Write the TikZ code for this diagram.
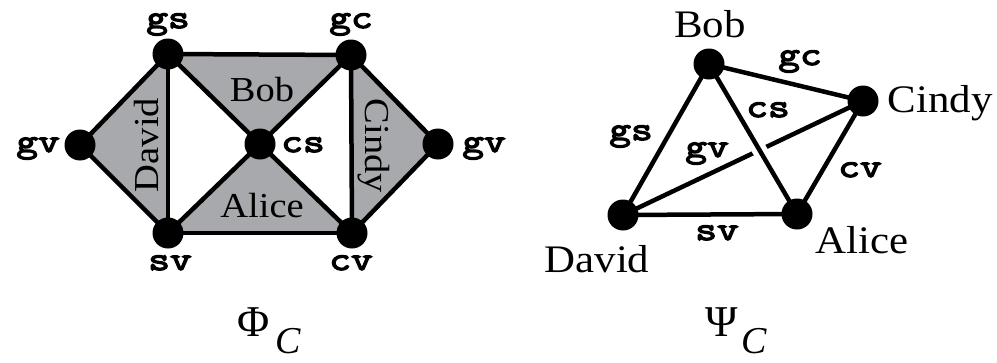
\documentclass[tikz,border=0pt]{standalone}
\usepackage{fontspec}
\setmainfont{Liberation Serif}
\newfontfamily\namefont[FakeStretch=1.1]{Liberation Serif}
\newfontfamily\codefont[FakeBold=4,FakeStretch=1.28]{Latin Modern Mono}
\usetikzlibrary{backgrounds}
\definecolor{triGray}{RGB}{167,169,172}
\begin{document}
\begin{tikzpicture}[x=1pt,y=-1pt,
  vertex/.style={circle, fill=black, inner sep=0pt, minimum size=31pt},
  lnk/.style={line width=4.5pt, black},
  tri/.style={fill=triGray},
  codelbl/.style={font=\codefont\fontsize{33}{33}\selectfont, inner sep=0pt, anchor=base},
  namel/.style={font=\namefont\fontsize{35}{35}\selectfont, inner sep=0pt, anchor=base},
  namer/.style={font=\namefont\fontsize{39}{39}\selectfont, inner sep=0pt, anchor=base},
  greek/.style={font=\fontsize{44}{44}\selectfont, inner sep=0pt, anchor=base},
  sub/.style={font=\itshape\fontsize{38}{38}\selectfont, inner sep=0pt, anchor=base west}]
\useasboundingbox (0,0) rectangle (997,362);

% ---------- left graph Phi_C ----------
\node[vertex] (gs)  at (168,54)  {};
\node[vertex] (gc)  at (351,55)  {};
\node[vertex] (gvl) at (80,145)  {};
\node[vertex] (cs)  at (260,144) {};
\node[vertex] (gvr) at (438,144) {};
\node[vertex] (sv)  at (168,233) {};
\node[vertex] (cv)  at (352,233) {};

\begin{scope}[on background layer]
  \fill[tri] (gvl.center) -- (gs.center) -- (sv.center) -- cycle;
  \fill[tri] (gs.center) -- (gc.center) -- (cs.center) -- cycle;
  \fill[tri] (cs.center) -- (sv.center) -- (cv.center) -- cycle;
  \fill[tri] (gc.center) -- (gvr.center) -- (cv.center) -- cycle;
  \draw[lnk] (gs.center) -- (gc.center);
  \draw[lnk] (sv.center) -- (cv.center);
  \draw[lnk] (gs.center) -- (sv.center);
  \draw[lnk] (gc.center) -- (cv.center);
  \draw[lnk] (gvl.center) -- (gs.center);
  \draw[lnk] (gvl.center) -- (sv.center);
  \draw[lnk] (gvr.center) -- (gc.center);
  \draw[lnk] (gvr.center) -- (cv.center);
  \draw[lnk] (gs.center) -- (cs.center);
  \draw[lnk] (gc.center) -- (cs.center);
  \draw[lnk] (sv.center) -- (cs.center);
  \draw[lnk] (cv.center) -- (cs.center);
\end{scope}

\node[codelbl] (lgs)  at (168,28)  {gs};
\node[codelbl] (lgc)  at (351,28)  {gc};
\node[codelbl] (lsv)  at (170,270) {sv};
\node[codelbl] (lcv)  at (351,270) {cv};
\node[codelbl] (lcs)  at (303,152) {cs};
\node[codelbl] (lgvl) at (38,152)  {gv};
\node[codelbl] (lgvr) at (484,152) {gv};

\node[namel] (tbob)   at (262,101) {Bob};
\node[namel] (talice) at (262,217) {Alice};
\node[namel, rotate=90]  (tdavid) at (158,145) {David};
\node[namel, rotate=-90] (tcindy) at (365,146) {Cindy};

\node[greek] (phi) at (254,336) {Φ};
\node[sub] (phisub) at (275,353) {C};

% ---------- right graph Psi_C ----------
\node[vertex] (bob)   at (709,64)  {};
\node[vertex] (cindy) at (863,101) {};
\node[vertex] (david) at (623,215) {};
\node[vertex] (alice) at (797,214) {};

\begin{scope}[on background layer]
  \draw[lnk] (bob.center) -- (cindy.center);
  \draw[lnk] (bob.center) -- (david.center);
  \draw[lnk] (cindy.center) -- (alice.center);
  \draw[lnk] (david.center) -- (alice.center);
  \draw[lnk] (david.center) -- (cindy.center);
  \draw[white, line width=15pt, shorten <=22pt, shorten >=22pt] (bob.center) -- (alice.center);
  \draw[lnk] (bob.center) -- (alice.center);
\end{scope}

\node[namer] (nbob)   at (710,37)  {Bob};
\node[namer] (ncindy) at (940,112) {Cindy};
\node[namer] (ndavid) at (597,272) {David};
\node[namer] (nalice) at (862,253) {Alice};

\node[codelbl] (egc) at (800,65)  {gc};
\node[codelbl] (ecs) at (768,117) {cs};
\node[codelbl] (egs) at (631,140) {gs};
\node[codelbl] (egv) at (707,157) {gv};
\node[codelbl] (ecv) at (860,177) {cv};
\node[codelbl] (esv) at (717,240) {sv};

\node[greek] (psi) at (722,336) {Ψ};
\node[sub] (psisub) at (741,353) {C};
\end{tikzpicture}
\end{document}
